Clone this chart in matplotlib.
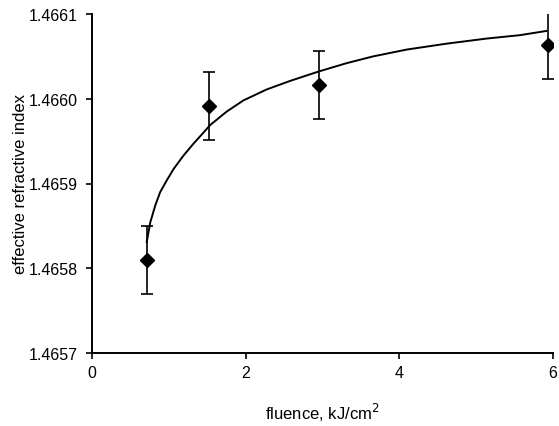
import matplotlib
matplotlib.use("Agg")
import matplotlib.pyplot as plt

# measured data
fluence = [0.71, 1.52, 2.95, 5.93]
index = [1.465810, 1.465991, 1.466016, 1.466063]
index_err = [0.000040, 0.000040, 0.000040, 0.000040]

# fitted curve
curve_x = [0.712, 0.758, 0.823, 0.888, 0.975, 1.061, 1.191, 1.321, 1.450,
           1.538, 1.755, 1.970, 2.274, 2.577, 2.945, 3.314, 3.660, 4.094,
           4.614, 5.134, 5.567, 5.914]
curve_y = [1.465831, 1.465854, 1.465874, 1.465890, 1.465904, 1.465917,
           1.465933, 1.465947, 1.465960, 1.465969, 1.465985, 1.465998,
           1.466011, 1.466021, 1.466032, 1.466042, 1.466050, 1.466058,
           1.466065, 1.466071, 1.466075, 1.466080]

xticks = [0, 2, 4, 6]
yticks = [1.4657, 1.4658, 1.4659, 1.4660, 1.4661]
ytick_labels = ["1.4657", "1.4658", "1.4659", "1.4660", "1.4661"]

plt.rcParams['font.family'] = ['Liberation Sans', 'DejaVu Sans']

fig = plt.figure(figsize=(5.59, 4.27), dpi=100)
ax = fig.add_axes([92/559, 1-354/427, (553-92)/559, (354-15)/427])

ax.plot(curve_x, curve_y, color='black', lw=1.4, zorder=2,
        solid_joinstyle='round')
ax.errorbar(fluence, index, yerr=index_err, fmt='D', color='black',
            ms=7, capsize=4, capthick=1.2, elinewidth=1.2, zorder=3)

ax.set_xlim(0, 6)
ax.set_ylim(1.4657, 1.4661)
ax.set_xticks(xticks)
ax.set_yticks(yticks)
ax.set_yticklabels(ytick_labels)
ax.tick_params(axis='both', direction='out', length=4, width=1.2,
               labelsize=11.5, colors='black')
ax.tick_params(axis='y', pad=6)
ax.tick_params(axis='x', pad=5)

for s in ['top', 'right']:
    ax.spines[s].set_visible(False)
for s in ['left', 'bottom']:
    ax.spines[s].set_linewidth(1.4)

ax.set_xlabel('fluence, kJ/cm$^2$', fontsize=12, labelpad=15)
ax.set_ylabel('effective refractive index', fontsize=12, labelpad=1)

fig.savefig('out.png', dpi=100)
